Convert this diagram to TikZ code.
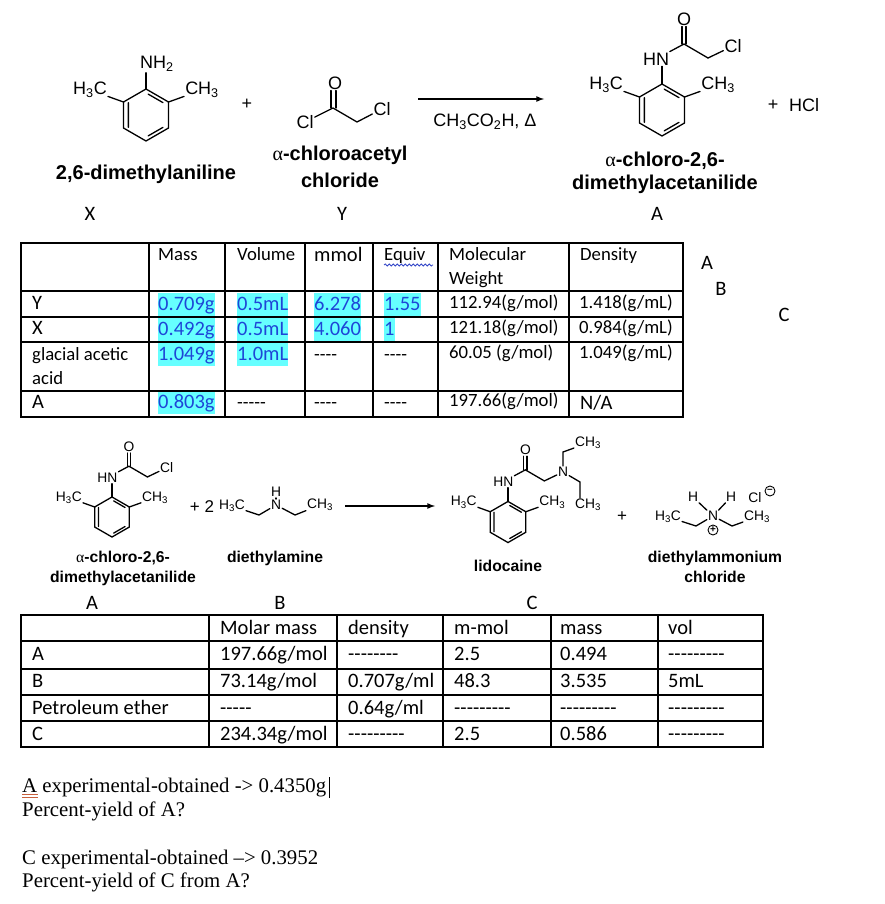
\documentclass[tikz,border=0pt]{standalone}
\usepackage{fontspec}
\usetikzlibrary{calc,decorations.pathmorphing}
\newfontfamily\tabfont{Carlito}
\newfontfamily\chemfont{Liberation Sans}
\newfontfamily\notefont{Liberation Serif}
\definecolor{hlcyan}{RGB}{102,255,255}
\definecolor{hlblue}{RGB}{30,70,215}
\definecolor{spellred}{RGB}{200,95,60}
\definecolor{spellblue}{RGB}{50,70,200}
\newcommand{\alphach}{{\notefont\mdseries α}}
\def\atomsz{18}
\tikzset{
  bond/.style={line width=1.3pt,line cap=round},
  rule/.style={line width=1.7pt,line cap=rect},
  rxnarrow/.style={line width=1.6pt,-latex},
  atom/.style={font=\chemfont\fontsize{\atomsz}{\atomsz}\selectfont,inner sep=1pt},
  chemname/.style={font=\chemfont\bfseries\fontsize{#1}{#1}\selectfont,inner sep=0pt},
  chg/.style={circle,draw,line width=.9pt,inner sep=0pt,minimum size=10pt,
    font=\chemfont\bfseries\fontsize{10}{10}\selectfont},
  tbl/.style={font=\tabfont\fontsize{18.7}{22}\selectfont,anchor=base west,inner sep=0pt},
  tblb/.style={font=\tabfont\fontsize{20.5}{24}\selectfont,anchor=base west,inner sep=0pt},
  lbl/.style={font=\tabfont\fontsize{20.5}{24}\selectfont,inner sep=0pt},
  hl/.style={tblb,fill=hlcyan,text=hlblue,text height=17pt,text depth=6pt},
  note/.style={font=\notefont\fontsize{20.8}{24}\selectfont,anchor=base west,inner sep=0pt}
}
% ring with its two methyl groups, origin at the ring centre
\newcommand{\xylring}[1]{%
  \coordinate (#1a) at (-90:26);
  \coordinate (#1b) at (-30:26);
  \coordinate (#1c) at (30:26);
  \coordinate (#1d) at (90:26);
  \coordinate (#1e) at (150:26);
  \coordinate (#1f) at (-150:26);
  \draw[bond] (#1a) -- (#1b) -- (#1c) -- (#1d) -- (#1e) -- (#1f) -- cycle;
  \draw[bond] (-84:21) -- (-36:21) (-145:21.5) -- (145:21.5) (84:21) -- (36:21);
  \node[atom] (#1me) at (-56,-25) {H\textsubscript{3}C};
  \node[atom] (#1mw) at (56,-25) {CH\textsubscript{3}};
  \draw[bond] (#1f) -- (#1me);
  \draw[bond] (#1b) -- (#1mw);
}
% NH-C(=O)-CH2 on top of the ring
\newcommand{\acylcore}[1]{%
  \node[atom] (#1hn) at (-6,-51) {HN};
  \coordinate (#1co) at (22,-66);
  \coordinate (#1ch) at (46,-52);
  \node[atom] (#1ox) at (22,-91) {O};
  \draw[bond] (#1a) -- (#1a |- #1hn.south);
  \draw[bond] (#1hn) -- (#1co) -- (#1ch);
  \draw[bond] ([xshift=-2pt]#1co) -- ([xshift=-2pt]#1co |- #1ox.south);
  \draw[bond] ([xshift=2pt]#1co) -- ([xshift=2pt]#1co |- #1ox.south);
}
\begin{document}
\begin{tikzpicture}[x=1pt,y=-1pt]
  \useasboundingbox (0,0) rectangle (884,904);
  \fill[white] (0,0) rectangle (884,904);

  % first reaction
  \begin{scope}[shift={(146,115)}]
    \xylring{x}
    \node[atom] (xnh) at (11,-51) {NH\textsubscript{2}};
    \draw[bond] (xa) -- (xa |- xnh.south);
  \end{scope}
  \node[atom] (plusa) at (247,104) {+};
  \coordinate (yco) at (333,108);
  \coordinate (ych) at (357,122);
  \node[atom] (yox) at (335,83) {O};
  \node[atom] (ycla) at (305,122) {Cl};
  \node[atom] (yclb) at (382,109) {Cl};
  \draw[bond] (ycla) -- (yco) -- (ych) -- (yclb);
  \draw[bond] ([xshift=-2pt]yco) -- ([xshift=-2pt]yco |- yox.south);
  \draw[bond] ([xshift=3pt]yco) -- ([xshift=3pt]yco |- yox.south);
  \coordinate (arra) at (418,99);
  \coordinate (arrb) at (544,99);
  \draw[rxnarrow] (arra) -- (arrb);
  \node[atom] (cond) at (485,122) {CH\textsubscript{3}CO\textsubscript{2}H, Δ};
  \begin{scope}[shift={(662,110)}]
    \xylring{p}
    \acylcore{p}
    \node[atom] (pcl) at (71,-64) {Cl};
    \draw[bond] (pch) -- (pcl);
  \end{scope}
  \node[atom] (plusb) at (773,105) {+};
  \node[atom] (hcl) at (804,105) {HCl};

  \node[chemname=20] (nx) at (146,174) {2,6-dimethylaniline};
  \node[chemname=20] (nya) at (340,155) {\alphach-chloroacetyl};
  \node[chemname=20] (nyb) at (340,180) {chloride};
  \node[chemname=20] (npa) at (665,161) {\alphach-chloro-2,6-};
  \node[chemname=20] (npb) at (665,184) {dimethylacetanilide};
  \node[lbl] (lx) at (90,214) {X};
  \node[lbl] (ly) at (342,214) {Y};
  \node[lbl] (la) at (657,214) {A};

  % first table
  \foreach \xx/\yy/\txt in {158/310/0.709g,237/310/0.5mL,314/310/6.278,384/310/1.55,
    158/335/0.492g,237/335/0.5mL,314/335/4.060,384/335/1,158/360/1.049g,237/360/1.0mL,158/408/0.803g}{
    \node[hl] (h\xx-\yy) at (\xx,\yy) {\txt};
  }
  \foreach \xx in {21,149,225,305,373,438,569,683}{
    \draw[rule] (\xx,243) -- (\xx,417);
  }
  \foreach \yy in {243,291,317,342,391,417}{
    \draw[rule] (21,\yy) -- (683,\yy);
  }
  \foreach \xx/\yy/\txt in {158/260/Mass,237/260/Volume,384/260/Equiv,449/260/Molecular,449/284/Weight,580/260/Density,
    449/308/{112.94(g/mol)},449/333/{121.18(g/mol)},449/358/{60.05 (g/mol)},449/406/{197.66(g/mol)},
    579/308/{1.418(g/mL)},579/333/{0.984(g/mL)},579/358/{1.049(g/mL)},
    32/360/glacial acetic,32/384/acid,314/360/----,384/360/----,237/408/-----,314/408/----,384/408/----}{
    \node[tbl] (t\xx-\yy) at (\xx,\yy) {\txt};
  }
  \node[tblb] (tmmol) at (314,261) {mmol};
  \node[tblb] (trowy) at (32,309) {Y};
  \node[tblb] (trowx) at (32,334) {X};
  \node[tblb] (trowa) at (32,408) {A};
  \node[tblb] (tna) at (580,409) {N/A};
  \coordinate (wava) at (384,265);
  \coordinate (wavb) at (433,265);
  \draw[spellblue,line width=.8pt,decorate,decoration={snake,amplitude=1pt,segment length=4pt}] (wava) -- (wavb);
  \node[lbl] (sidea) at (707,263) {A};
  \node[lbl] (sideb) at (721,289) {B};
  \node[lbl] (sidec) at (784,315) {C};

  % second reaction
  \begin{scope}[shift={(112,517)},scale=.77]
    \def\atomsz{13.8}
    \xylring{q}
    \acylcore{q}
    \node[atom] (qcl) at (71,-64) {Cl};
    \draw[bond] (qch) -- (qcl);
  \end{scope}
  \def\atomsz{13.8}
  \node[atom,font=\chemfont\fontsize{17}{17}\selectfont] (plusc) at (202,507) {+ 2};
  \node[atom] (bme) at (232,506) {H\textsubscript{3}C};
  \coordinate (bca) at (259,515);
  \node[atom] (bn) at (276,505) {N};
  \node[atom] (bh) at (276,492) {H};
  \coordinate (bcb) at (295,515);
  \node[atom] (bmw) at (320,505) {CH\textsubscript{3}};
  \draw[bond] (bme) -- (bca) -- (bn) -- (bcb) -- (bmw);
  \draw[bond] (bn) -- (bh);
  \coordinate (arrc) at (345,506);
  \coordinate (arrd) at (435,506);
  \draw[rxnarrow] (arrc) -- (arrd);
  \begin{scope}[shift={(508,522)},scale=.79]
    \xylring{l}
    \acylcore{l}
  \end{scope}
  \node[atom] (ln) at (563,472) {N};
  \coordinate (lea) at (563,452);
  \node[atom] (lma) at (588,443) {CH\textsubscript{3}};
  \coordinate (leb) at (580,482);
  \node[atom] (lmb) at (588,505) {CH\textsubscript{3}};
  \draw[bond] (lch) -- (ln) -- (lea) -- (lma);
  \draw[bond] (ln) -- (leb) -- (leb |- lmb.north);
  \node[atom,font=\chemfont\fontsize{17}{17}\selectfont] (plusd) at (622,517) {+};
  \node[atom] (dme) at (668,517) {H\textsubscript{3}C};
  \coordinate (dca) at (696,526);
  \node[atom] (dn) at (713,516) {N};
  \coordinate (dcb) at (732,526);
  \node[atom] (dmw) at (757,517) {CH\textsubscript{3}};
  \node[atom] (dha) at (693,497) {H};
  \node[atom] (dhb) at (731,497) {H};
  \draw[bond] (dme) -- (dca) -- (dn) -- (dcb) -- (dmw);
  \draw[bond] (dha) -- (dn);
  \draw[bond] (dhb) -- (dn);
  \node[chg] (dplus) at (713,530) {+};
  \node[atom] (dcl) at (755,498) {Cl};
  \node[chg] (dminus) at (770,491) {–};

  \node[chemname=15.7] (nqa) at (123,558) {\alphach-chloro-2,6-};
  \node[chemname=15.7] (nqb) at (123,578) {dimethylacetanilide};
  \node[chemname=15.7] (nb) at (275,558) {diethylamine};
  \node[chemname=15.7] (nl) at (508,566) {lidocaine};
  \node[chemname=15.7] (nda) at (715,558) {diethylammonium};
  \node[chemname=15.7] (ndb) at (715,577) {chloride};
  \node[lbl] (labela) at (92,603) {A};
  \node[lbl] (labelb) at (280,603) {B};
  \node[lbl] (labelc) at (532,603) {C};

  % second table
  \foreach \xx in {21,209,337,443,551,658,763}{
    \draw[rule] (\xx,615) -- (\xx,747);
  }
  \foreach \yy in {615,641,669,695,721,747}{
    \draw[rule] (21,\yy) -- (763,\yy);
  }
  \foreach \xx/\yy/\txt in {32/660/A,32/687/B,32/714/Petroleum ether,32/740/C,
    220/634/Molar mass,348/634/density,454/634/m-mol,560/634/mass,668/634/vol,
    220/660/{197.66g/mol},348/660/--------,454/660/2.5,560/660/0.494,668/660/---------,
    220/687/{73.14g/mol},348/687/{0.707g/ml},454/687/48.3,560/687/3.535,668/687/5mL,
    220/714/-----,348/714/{0.64g/ml},454/714/---------,560/714/---------,668/714/---------,
    220/740/{234.34g/mol},348/740/---------,454/740/2.5,560/740/0.586,668/740/---------}{
    \node[tblb] (u\xx-\yy) at (\xx,\yy) {\txt};
  }

  % notes
  \node[note] (notea) at (22,792) {A experimental-obtained -> 0.4350g};
  \node[note] (noteb) at (22,816) {Percent-yield of A?};
  \node[note] (notec) at (22,864) {C experimental-obtained –> 0.3952};
  \node[note] (noted) at (22,887) {Percent-yield of C from A?};
  \draw[spellred,line width=1pt] (22,794.5) -- (38,794.5) (22,797.5) -- (38,797.5);
  \draw[line width=1pt] (329,777) -- (329,798);
\end{tikzpicture}
\end{document}
